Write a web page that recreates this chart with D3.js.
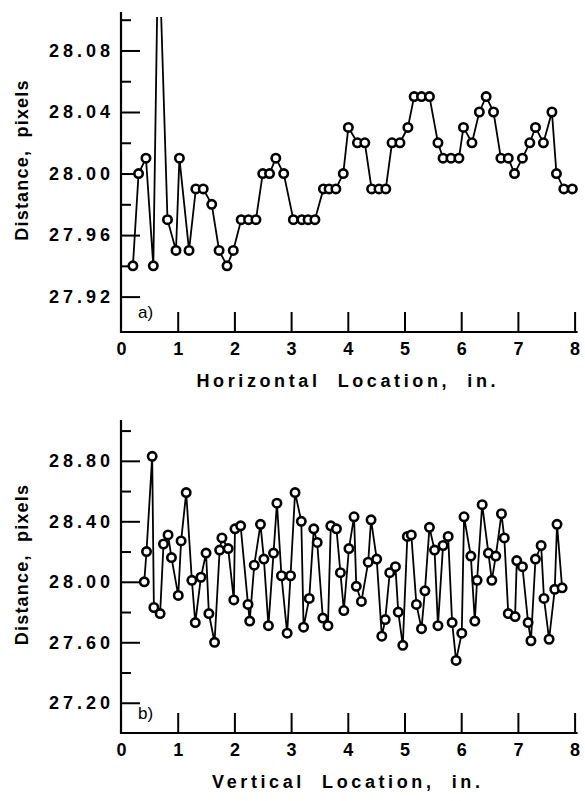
<!DOCTYPE html>
<html>
<head>
<meta charset="utf-8">
<script src="https://cdn.jsdelivr.net/npm/d3@7"></script>
<style>
  body { margin: 0; background: #fff; }
  text { font-family: "Liberation Sans", Arial, Helvetica, sans-serif; }
  .title { white-space: pre; }
</style>
</head>
<body>
<script>
// (a) horizontal location, inches / measured distance, pixels
const topX = [0.21, 0.31, 0.44, 0.57, 0.66, 0.82, 0.97, 1.03, 1.20, 1.32, 1.45, 1.60, 1.73, 1.87, 1.98,
  2.12, 2.25, 2.38, 2.50, 2.62, 2.73, 2.87, 3.04, 3.19, 3.30, 3.42, 3.57, 3.67, 3.79, 3.92,
  4.01, 4.17, 4.30, 4.42, 4.55, 4.67, 4.78, 4.92, 5.06, 5.17, 5.30, 5.44, 5.59, 5.68, 5.82,
  5.96, 6.04, 6.19, 6.32, 6.44, 6.57, 6.70, 6.83, 6.94, 7.08, 7.21, 7.31, 7.45, 7.60, 7.68,
  7.81, 7.96];
const topY = [27.94, 28.00, 28.01, 27.94, 28.16, 27.97, 27.95, 28.01, 27.95, 27.99, 27.99, 27.98, 27.95, 27.94, 27.95,
  27.97, 27.97, 27.97, 28.00, 28.00, 28.01, 28.00, 27.97, 27.97, 27.97, 27.97, 27.99, 27.99, 27.99, 28.00,
  28.03, 28.02, 28.02, 27.99, 27.99, 27.99, 28.02, 28.02, 28.03, 28.05, 28.05, 28.05, 28.02, 28.01, 28.01,
  28.01, 28.03, 28.02, 28.04, 28.05, 28.04, 28.01, 28.01, 28.00, 28.01, 28.02, 28.03, 28.02, 28.04, 28.00,
  27.99, 27.99];

// (b) vertical location, inches / measured distance, pixels
const botX = [0.41, 0.45, 0.55, 0.58, 0.69, 0.75, 0.83, 0.89, 1.01, 1.06, 1.15, 1.25, 1.31, 1.41, 1.50,
  1.55, 1.65, 1.74, 1.78, 1.89, 1.99, 2.01, 2.11, 2.24, 2.27, 2.35, 2.46, 2.52, 2.60, 2.69,
  2.75, 2.83, 2.93, 2.99, 3.07, 3.18, 3.22, 3.32, 3.40, 3.46, 3.56, 3.65, 3.70, 3.80, 3.87,
  3.93, 4.02, 4.11, 4.15, 4.24, 4.36, 4.41, 4.51, 4.60, 4.66, 4.74, 4.84, 4.89, 4.97, 5.05,
  5.12, 5.21, 5.30, 5.36, 5.44, 5.53, 5.59, 5.68, 5.77, 5.84, 5.91, 6.01, 6.05, 6.17, 6.24,
  6.28, 6.37, 6.48, 6.54, 6.61, 6.71, 6.76, 6.83, 6.95, 6.98, 7.08, 7.18, 7.23, 7.31, 7.41,
  7.46, 7.55, 7.65, 7.69, 7.78];
const botY = [28.00, 28.20, 28.83, 27.83, 27.79, 28.25, 28.31, 28.16, 27.91, 28.27, 28.59, 28.01, 27.73, 28.03, 28.19,
  27.79, 27.60, 28.21, 28.29, 28.22, 27.88, 28.35, 28.37, 27.85, 27.74, 28.11, 28.38, 28.15, 27.71, 28.19,
  28.52, 28.04, 27.66, 28.04, 28.59, 28.40, 27.70, 27.89, 28.35, 28.26, 27.76, 27.71, 28.37, 28.35, 28.06,
  27.81, 28.22, 28.43, 27.97, 27.87, 28.13, 28.41, 28.15, 27.64, 27.75, 28.06, 28.10, 27.80, 27.58, 28.30,
  28.31, 27.85, 27.69, 27.94, 28.36, 28.21, 27.71, 28.24, 28.30, 27.73, 27.48, 27.66, 28.43, 28.17, 27.74,
  28.01, 28.51, 28.19, 28.01, 28.17, 28.45, 28.29, 27.79, 27.77, 28.14, 28.10, 27.73, 27.61, 28.15, 28.24,
  27.89, 27.62, 27.95, 28.38, 27.96];

const xTicks = [0, 1, 2, 3, 4, 5, 6, 7, 8];
const topMajor = [27.92, 27.96, 28.00, 28.04, 28.08];
const topMinor = [27.94, 27.98, 28.02, 28.06, 28.10];
const botMajor = [27.20, 27.60, 28.00, 28.40, 28.80];
const botMinor = [27.40, 27.80, 28.20, 28.60, 29.00];

const width = 585, height = 801;
const x0 = 121, x1 = 574.6;

const svg = d3.select("body").append("svg")
    .attr("width", width)
    .attr("height", height);

const xScale = d3.scaleLinear().domain([0, 8]).range([x0, x1]);

const panels = [
  { id: "a", xs: topX, ys: topY, domain: [27.897, 28.105], range: [332, 12],
    major: topMajor, minor: topMinor, fmt: d3.format(".2f"),
    xTitle: "Horizontal  Location,  in.", tag: "a)" },
  { id: "b", xs: botX, ys: botY, domain: [27.00, 29.07], range: [733, 420],
    major: botMajor, minor: botMinor, fmt: d3.format(".2f"),
    xTitle: "Vertical  Location,  in.", tag: "b)" }
];

panels.forEach(p => {
  const yScale = d3.scaleLinear().domain(p.domain).range(p.range);
  const yTop = p.range[1], yBot = p.range[0];
  const g = svg.append("g");

  // clip so the off-scale spike gets cut at the frame top
  svg.append("clipPath").attr("id", "clip-" + p.id)
    .append("rect")
      .attr("x", x0).attr("y", yTop + 5)
      .attr("width", x1 - x0 + 10).attr("height", yBot - yTop);

  // axis lines
  g.append("line")
      .attr("x1", x0).attr("x2", x0).attr("y1", yTop).attr("y2", yBot + 1)
      .attr("stroke", "#000").attr("stroke-width", 2.2);
  g.append("line")
      .attr("x1", x0 - 1).attr("x2", x1 + 3).attr("y1", yBot).attr("y2", yBot)
      .attr("stroke", "#000").attr("stroke-width", 2.2);

  // y ticks: major with labels, minor without, both pointing inward
  const yMaj = g.append("g")
      .attr("transform", `translate(${x0},0)`)
      .call(d3.axisLeft(yScale).tickValues(p.major).tickSize(-19).tickPadding(11).tickFormat(p.fmt));
  const yMin = g.append("g")
      .attr("transform", `translate(${x0},0)`)
      .call(d3.axisLeft(yScale).tickValues(p.minor).tickSize(-10).tickFormat(""));

  // x ticks pointing up into the plot
  const xAx = g.append("g")
      .attr("transform", `translate(0,${yBot})`)
      .call(d3.axisBottom(xScale).tickValues(xTicks).tickSize(-20).tickPadding(10).tickFormat(d3.format("d")));

  [yMaj, yMin, xAx].forEach(a => {
    a.select(".domain").remove();
    a.selectAll(".tick line").attr("stroke", "#000").attr("stroke-width", 2);
    a.selectAll(".tick text")
        .attr("fill", "#000")
        .attr("font-size", "18px")
        .attr("font-weight", "bold")
        .attr("font-family", '"Liberation Sans", Arial, sans-serif');
  });
  yMaj.selectAll(".tick text").attr("letter-spacing", "4px").attr("dx", "4px");
  xAx.selectAll(".tick line").filter(d => d === 0).remove();

  // line + open circle markers
  const pts = p.xs.map((v, i) => [v, p.ys[i]]);
  const line = d3.line()
      .x(d => xScale(d[0]))
      .y(d => yScale(d[1]));

  const plot = g.append("g").attr("clip-path", `url(#clip-${p.id})`);
  plot.append("path")
      .datum(pts)
      .attr("fill", "none")
      .attr("stroke", "#000")
      .attr("stroke-width", 1.8)
      .attr("d", line);
  plot.selectAll(".dot")
      .data(pts)
      .enter().append("circle")
      .attr("class", "dot")
      .attr("cx", d => xScale(d[0]))
      .attr("cy", d => yScale(d[1]))
      .attr("r", 4.2)
      .attr("fill", "#fff")
      .attr("stroke", "#000")
      .attr("stroke-width", 2.6);

  // panel tag
  g.append("text")
      .attr("x", x0 + 17)
      .attr("y", yBot - 14)
      .attr("font-size", "17px")
      .text(p.tag);

  // axis titles
  g.append("text")
      .attr("class", "title")
      .attr("x", xScale(4))
      .attr("y", yBot + 55)
      .attr("text-anchor", "middle")
      .attr("font-size", "18px")
      .attr("font-weight", "bold")
      .attr("letter-spacing", "3.6px")
      .text(p.xTitle);

  const yMid = (yTop + yBot) / 2 - 12;
  g.append("text")
      .attr("class", "title")
      .attr("transform", `translate(28,${yMid}) rotate(-90)`)
      .attr("text-anchor", "middle")
      .attr("font-size", "18px")
      .attr("font-weight", "bold")
      .attr("letter-spacing", "1.2px")
      .text("Distance,  pixels");
});
</script>
</body>
</html>
